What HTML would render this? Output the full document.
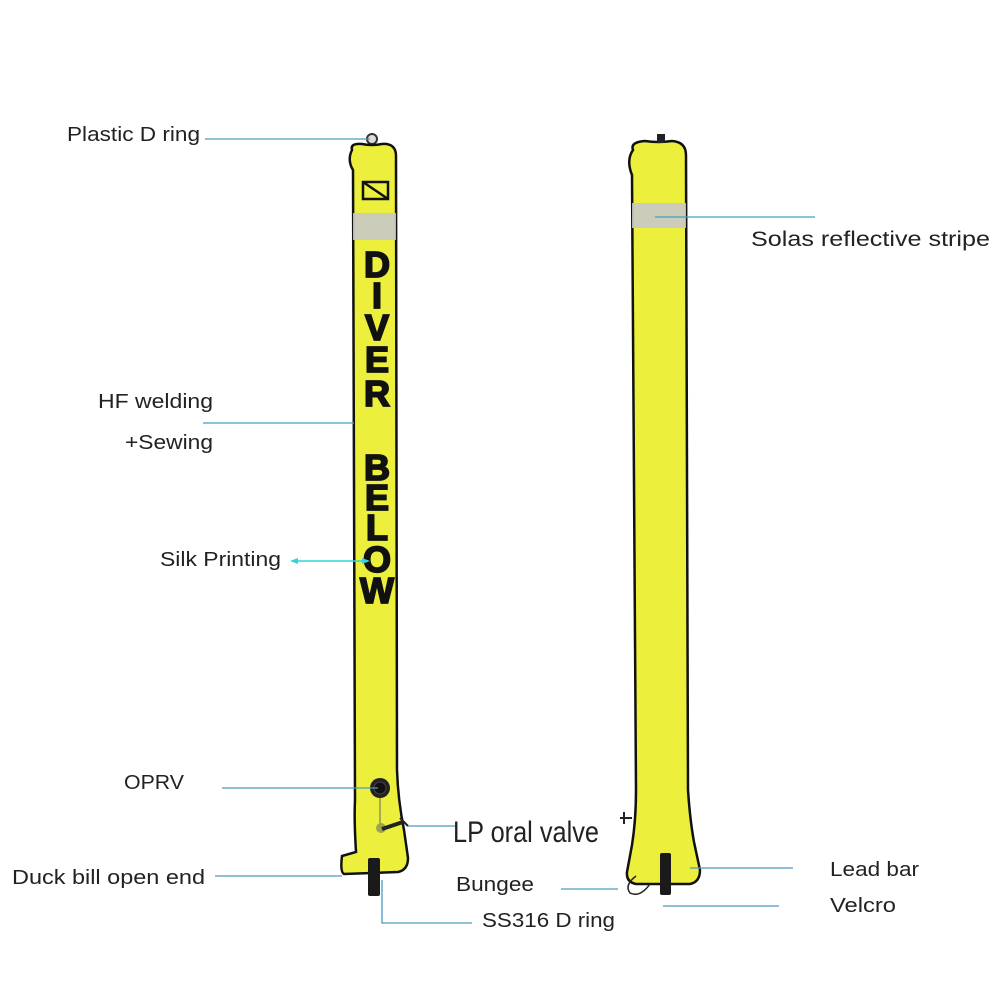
<!DOCTYPE html>
<html><head><style>
html,body{margin:0;padding:0;background:#fff;}
svg{display:block;}
text{font-family:"Liberation Sans",sans-serif;fill:#222;}
.big{font-weight:bold;fill:#111;stroke:#111;stroke-width:1.8;}
</style></head><body>
<svg width="1001" height="1001" viewBox="0 0 1001 1001" xmlns="http://www.w3.org/2000/svg">
<!-- Left tube -->
<circle cx="372" cy="139" r="5" fill="#ddd" stroke="#333" stroke-width="2"/>
<path d="M352,150 Q350,143 362,144 Q372,146 382,144 Q396,143 396,156 L397,770 Q398,800 404,830 L408,858 Q408,870 398,872 L344,874 Q340,872 342,856 L356,852 Q354,820 355,800 L353,170 Q347,160 352,150 Z" fill="#ecef3c" stroke="#111" stroke-width="2.5"/>
<rect x="353" y="213" width="43" height="27" fill="#c8c8c8" opacity="0.9"/>
<rect x="363" y="182" width="25" height="17" fill="none" stroke="#111" stroke-width="2.5"/>
<line x1="363" y1="182" x2="388" y2="199" stroke="#111" stroke-width="2.5"/>
<g class="big" font-size="36" text-anchor="middle">
<text class="big" x="377" y="277">D</text>
<text class="big" x="377" y="308">I</text>
<text class="big" x="377" y="340">V</text>
<text class="big" x="377" y="372">E</text>
<text class="big" x="377" y="406">R</text>
<text class="big" x="377" y="480">B</text>
<text class="big" x="377" y="510">E</text>
<text class="big" x="377" y="540">L</text>
<text class="big" x="377" y="572">O</text>
<text class="big" x="377" y="603">W</text>
</g>
<circle cx="380" cy="788" r="10" fill="#222"/>
<circle cx="380" cy="788" r="6" fill="#111" stroke="#444"/>
<line x1="380" y1="798" x2="380" y2="826" stroke="#666" stroke-width="1"/>
<circle cx="381" cy="828" r="5" fill="#9aa54a"/>
<line x1="382" y1="829" x2="403" y2="822" stroke="#222" stroke-width="4"/>
<line x1="400" y1="818" x2="408" y2="826" stroke="#222" stroke-width="2"/>
<rect x="368" y="858" width="12" height="38" rx="2" fill="#1a1a1a"/>
<!-- Right tube -->
<path d="M633,150 Q630,142 645,141 Q658,143 672,141 Q686,142 686,155 L688,790 Q690,820 694,842 L700,870 Q700,882 690,884 L636,884 Q626,882 627,872 L632,845 Q636,820 636,790 L632,175 Q626,160 633,150 Z" fill="#ecef3c" stroke="#111" stroke-width="2.5"/>
<rect x="657" y="134" width="8" height="9" fill="#222"/>
<rect x="632" y="203" width="54" height="25" fill="#c8c8c8" opacity="0.9"/>
<rect x="660" y="853" width="11" height="42" rx="2" fill="#1a1a1a"/>
<path d="M636,876 Q624,885 630,893 Q640,898 650,884" fill="none" stroke="#222" stroke-width="1.5"/>
<line x1="620" y1="818" x2="632" y2="818" stroke="#222" stroke-width="2"/>
<line x1="624" y1="812" x2="624" y2="824" stroke="#222" stroke-width="2"/>
<!-- connectors -->
<g stroke="#4a9cc0" stroke-width="1.3" fill="none">
<line x1="205" y1="139" x2="370" y2="139"/>
<line x1="655" y1="217" x2="815" y2="217"/>
<line x1="203" y1="423" x2="354" y2="423"/>
<line x1="222" y1="788" x2="378" y2="788"/>
<line x1="408" y1="826" x2="456" y2="826"/>
<line x1="215" y1="876" x2="342" y2="876"/>
<line x1="561" y1="889" x2="618" y2="889"/>
<polyline points="382,880 382,923 472,923"/>
<line x1="690" y1="868" x2="793" y2="868"/>
<line x1="663" y1="906" x2="779" y2="906"/>
</g>
<g stroke="#35d4dc" stroke-width="1.5" fill="#35d4dc">
<line x1="292" y1="561" x2="368" y2="561"/>
<polygon points="290,561 298,558 298,564" stroke="none"/>
<polygon points="370,561 362,558 362,564" stroke="none"/>
</g>
<!-- labels -->
<g font-size="20">
<text x="67" y="141" textLength="133" lengthAdjust="spacingAndGlyphs">Plastic D ring</text>
<text x="751" y="246" font-size="21" textLength="239" lengthAdjust="spacingAndGlyphs">Solas reflective stripe</text>
<text x="98" y="408" textLength="115" lengthAdjust="spacingAndGlyphs">HF welding</text>
<text x="125" y="449" textLength="88" lengthAdjust="spacingAndGlyphs">+Sewing</text>
<text x="160" y="566" textLength="121" lengthAdjust="spacingAndGlyphs">Silk Printing</text>
<text x="124" y="789" textLength="60" lengthAdjust="spacingAndGlyphs">OPRV</text>
<text x="453" y="842" font-size="30" textLength="146" lengthAdjust="spacingAndGlyphs">LP oral valve</text>
<text x="12" y="884" textLength="193" lengthAdjust="spacingAndGlyphs">Duck bill open end</text>
<text x="456" y="891" textLength="78" lengthAdjust="spacingAndGlyphs">Bungee</text>
<text x="482" y="927" textLength="133" lengthAdjust="spacingAndGlyphs">SS316 D ring</text>
<text x="830" y="876" textLength="89" lengthAdjust="spacingAndGlyphs">Lead bar</text>
<text x="830" y="912" textLength="66" lengthAdjust="spacingAndGlyphs">Velcro</text>
</g>
</svg>
</body></html>
